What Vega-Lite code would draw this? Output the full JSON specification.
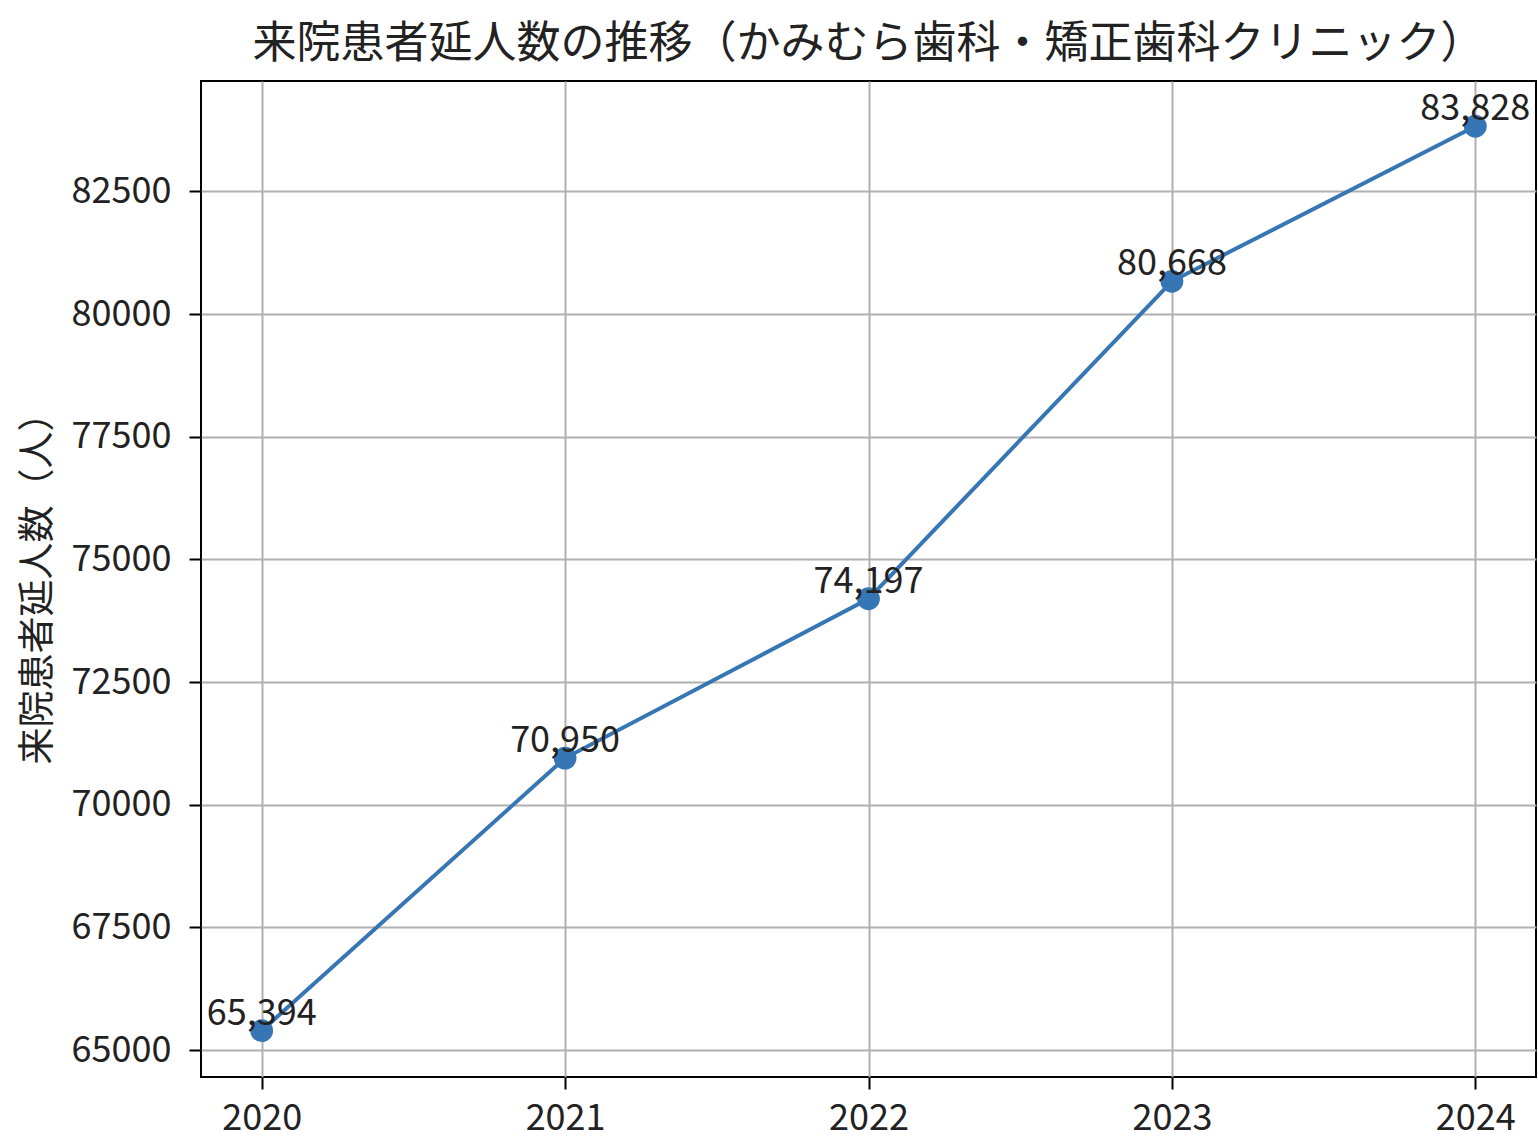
{
  "$schema": "https://vega.github.io/schema/vega-lite/v6.json",
  "width": 1335,
  "height": 996,
  "autosize": "none",
  "padding": {"left": 201, "top": 81, "right": 2, "bottom": 64},
  "background": "white",
  "config": {
    "font": "Noto Sans CJK JP",
    "view": {"stroke": "black", "strokeWidth": 2},
    "axis": {
      "domain": false,
      "grid": true,
      "gridColor": "#b0b0b0",
      "gridWidth": 2,
      "tickColor": "black",
      "tickWidth": 2,
      "tickSize": 12,
      "labelFont": "Noto Sans CJK JP",
      "labelFontSize": 36,
      "labelColor": "#222222",
      "titleFont": "Noto Sans CJK JP",
      "titleFontSize": 37,
      "titleFontWeight": "normal",
      "titleColor": "#222222"
    }
  },
  "title": {
    "text": "来院患者延人数の推移（かみむら歯科・矯正歯科クリニック）",
    "font": "Noto Sans CJK JP",
    "fontSize": 44,
    "fontWeight": "normal",
    "color": "#222222",
    "anchor": "middle",
    "offset": 14
  },
  "data": {
    "values": [
      {"year": 2020, "patients": 65394, "label": "65,394"},
      {"year": 2021, "patients": 70950, "label": "70,950"},
      {"year": 2022, "patients": 74197, "label": "74,197"},
      {"year": 2023, "patients": 80668, "label": "80,668"},
      {"year": 2024, "patients": 83828, "label": "83,828"}
    ]
  },
  "encoding": {
    "x": {
      "field": "year",
      "type": "quantitative",
      "scale": {"domain": [2019.8, 2024.2], "nice": false, "zero": false},
      "axis": {"values": [2020, 2021, 2022, 2023, 2024], "format": "d", "title": null, "labelPadding": 12, "labelFlush": false}
    },
    "y": {
      "field": "patients",
      "type": "quantitative",
      "scale": {"domain": [64450, 84750], "nice": false, "zero": false},
      "axis": {"values": [65000, 67500, 70000, 72500, 75000, 77500, 80000, 82500], "format": "d", "title": "来院患者延人数（人）", "labelPadding": 18, "titlePadding": 14}
    }
  },
  "layer": [
    {"mark": {"type": "line", "color": "#3776b4", "strokeWidth": 4}},
    {"mark": {"type": "point", "filled": true, "color": "#3776b4", "opacity": 1, "size": 520}},
    {
      "mark": {"type": "text", "fontSize": 36, "baseline": "alphabetic", "dy": -6, "color": "#222222", "font": "Noto Sans CJK JP"},
      "encoding": {"text": {"field": "label"}}
    }
  ]
}
